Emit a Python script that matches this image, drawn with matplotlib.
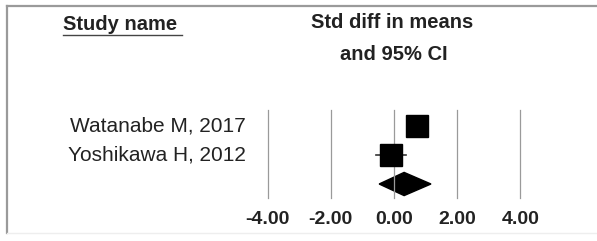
import numpy as np
import matplotlib.pyplot as plt
from matplotlib.patches import Polygon

plt.rcParams['font.family'] = ['Liberation Sans', 'DejaVu Sans']

# study data (std diff in means)
studies = ['Watanabe M, 2017', 'Yoshikawa H, 2012']
effect = [0.74, -0.11]
ci_low = [0.45, -0.57]
ci_high = [1.05, 0.38]

# pooled estimate
pooled_est = 0.32
pooled_low = -0.47
pooled_high = 1.17

ticks = [-4, -2, 0, 2, 4]
tick_labels = ['-4.00', '-2.00', '0.00', '2.00', '4.00']

fig = plt.figure(figsize=(5.97, 2.41), dpi=100)
ax = fig.add_axes([0, 0, 1, 1])

# 31.6 px per unit, zero at px 394; 29 px per row, first row at px 126
ax.set_xlim(-394 / 31.6, (597 - 394) / 31.6)
ax.set_ylim((241 - 126) / 29, -126 / 29)
ax.axis('off')

# frame (top and left, faint bottom)
ax.plot([7 / 597, 1], [1 - 6 / 241, 1 - 6 / 241], color='#9a9a9a', lw=1.6,
        transform=ax.transAxes, clip_on=False)
ax.plot([7 / 597, 7 / 597], [1 - 6 / 241, 1 - 233 / 241], color='#9a9a9a', lw=1.6,
        transform=ax.transAxes, clip_on=False)
ax.plot([7 / 597, 1], [1 - 233 / 241, 1 - 233 / 241], color='#eeeeee', lw=1.0,
        transform=ax.transAxes, clip_on=False)

# grid lines
for t in ticks:
    ax.plot([t, t], [-0.55, 2.48], color='#9a9a9a', lw=0.9)

for t, lab in zip(ticks, tick_labels):
    ax.text(t, 3.24, lab, ha='center', va='center', fontsize=14,
            fontweight='bold', color='#222222')

rows = np.arange(len(studies))
for i in rows:
    ax.plot([ci_low[i], ci_high[i]], [i, i], color='#333333', lw=1.2)
    ax.plot(effect[i], i, marker='s', ms=16.5, color='black', mec='black')
    ax.text((246 - 394) / 31.6, i, studies[i], ha='right', va='center',
            fontsize=15, color='#222222')

diamond = Polygon([[pooled_low, 2], [pooled_est, 2 - 0.4],
                   [pooled_high, 2], [pooled_est, 2 + 0.4]],
                  closed=True, color='black')
ax.add_patch(diamond)

# headers
ax.text(63 / 597, 1 - 24 / 241, 'Study name', transform=ax.transAxes,
        ha='left', va='center', fontsize=14.5, fontweight='bold', color='#222222')
ax.plot([63 / 597, 182 / 597], [1 - 35 / 241, 1 - 35 / 241], color='#444444',
        lw=1.0, transform=ax.transAxes)
ax.text(392 / 597, 1 - 23 / 241, 'Std diff in means', transform=ax.transAxes,
        ha='center', va='center', fontsize=14.5, fontweight='bold', color='#222222')
ax.text(394 / 597, 1 - 54 / 241, 'and 95% CI', transform=ax.transAxes,
        ha='center', va='center', fontsize=14.5, fontweight='bold', color='#222222')

fig.savefig('out.png', dpi=100)
